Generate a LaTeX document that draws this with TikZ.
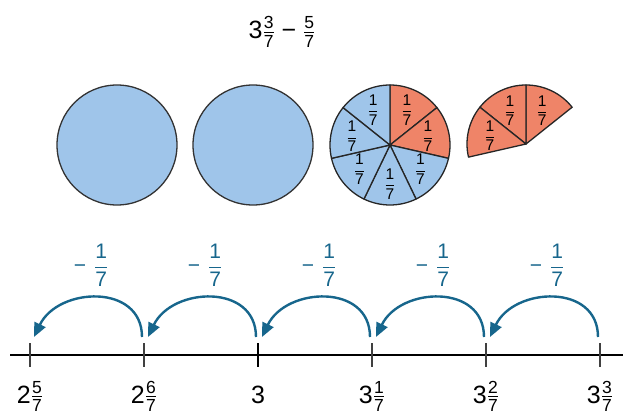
\documentclass[tikz,border=0pt]{standalone}
\usepackage{amsmath}
\usepackage{fontspec}
\setmainfont{Liberation Sans}
\usetikzlibrary{calc,arrows.meta}
\definecolor{pieblue}{RGB}{159,197,234}
\definecolor{pieorange}{RGB}{239,132,104}
\definecolor{jumpblue}{RGB}{23,102,140}
\newcommand{\pecahan}[2]{$\dfrac{\text{#1}}{\text{#2}}$}
\newcommand{\campuran}[3]{$\text{#1}\tfrac{\text{#2}}{\text{#3}}$}

\begin{document}
\begin{tikzpicture}[x=1pt,y=1pt,line join=round,
  whole/.style={draw=black!80,fill=pieblue,line width=1.3pt},
  piece/.style={draw=black!85,line width=1.3pt},
  seventh/.style={font=\fontsize{15.5}{17}\selectfont,inner sep=0pt},
  jump/.style={jumpblue,line width=2.4pt,-{Triangle[length=14pt,width=12pt]}},
  jumplabel/.style={text=jumpblue,font=\fontsize{21}{24}\selectfont},
  ticklabel/.style={anchor=base,font=\fontsize{25}{30}\selectfont,inner sep=0pt}]
  \useasboundingbox (0,0) rectangle (623,410);

  \coordinate (C1) at (117,265);
  \coordinate (C2) at (253,265);
  \coordinate (C3) at (390,265);
  \coordinate (P)  at (526,266);

  \node[anchor=base,font=\fontsize{25}{28}\selectfont] (title) at (282,371.5)
    {$\text{3}\tfrac{\text{3}}{\text{7}}\;\text{−}\;\tfrac{\text{5}}{\text{7}}$};

  % two whole circles
  \draw[whole] (C1) circle (60);
  \draw[whole] (C2) circle (60);

  % circle cut in sevenths
  \foreach \k in {0,...,6} {
    \pgfmathsetmacro{\a}{90-\k*360/7}
    \ifnum\k<2 \def\col{pieorange}\else\def\col{pieblue}\fi
    \filldraw[piece,fill=\col] (C3) -- ++(\a:60)
      arc[start angle=\a,end angle=\a-360/7,radius=60] -- cycle;
    \node[seventh] (s\k) at ($(C3)+(\a-180/7:39)$) {\pecahan{1}{7}};
  }

  % the three sevenths left over
  \foreach \k in {0,1,2} {
    \pgfmathsetmacro{\a}{90-360/7+\k*360/7}
    \filldraw[piece,fill=pieorange] (P) -- ++(\a:59)
      arc[start angle=\a,end angle=\a+360/7,radius=59] -- cycle;
    \node[seventh] (r\k) at ($(P)+(\a+180/7:37)$) {\pecahan{1}{7}};
  }

  % number line
  \foreach \i in {0,...,5}
    \coordinate (t\i) at (30+114*\i,55);
  \draw[line width=2.2pt] (10,55) -- (623,55);
  \foreach \i in {0,1,3,4,5}
    \draw[black!75,line width=1.3pt] ($(t\i)+(0,12)$) -- ($(t\i)+(0,-12)$);
  \draw[line width=2.4pt] ($(t2)+(0,12)$) -- ($(t2)+(0,-12)$);

  \node[ticklabel] (n0) at ($(t0)+(0,-48)$) {\campuran{2}{5}{7}};
  \node[ticklabel] (n1) at ($(t1)+(0,-48)$) {\campuran{2}{6}{7}};
  \node[ticklabel] (n2) at ($(t2)+(0,-48)$) {3};
  \node[ticklabel] (n3) at ($(t3)+(0,-48)$) {\campuran{3}{1}{7}};
  \node[ticklabel] (n4) at ($(t4)+(0,-48)$) {\campuran{3}{2}{7}};
  \node[ticklabel] (n5) at ($(t5)+(0,-48)$) {\campuran{3}{3}{7}};

  % jumps back by one seventh
  \foreach \i/\j in {1/0,2/1,3/2,4/3,5/4} {
    \draw[jump] ($(t\i)+(-2,18)$) .. controls +(0,54) and +(24,50) .. ($(t\j)+(4,18)$);
    \node[jumplabel] (m\j) at ($(t\j)!0.5!(t\i)+(4,90)$)
      {$\text{−}\hspace{8pt}\dfrac{\text{1}}{\text{7}}$};
  }
\end{tikzpicture}
\end{document}
